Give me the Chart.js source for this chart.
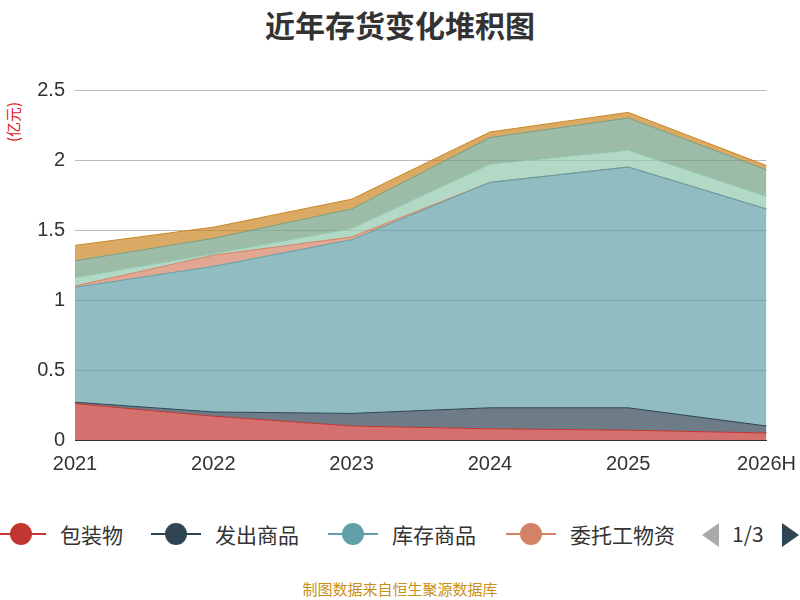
<!DOCTYPE html>
<html><head><meta charset="utf-8">
<script src="https://cdn.jsdelivr.net/npm/chart.js@4"></script>
<style>
body{margin:0;width:800px;height:600px;overflow:hidden;background:#fff;font-family:"Noto Sans CJK SC","Noto Sans",sans-serif;position:relative}
#title{position:absolute;top:2px;left:0;width:800px;text-align:center;font-size:30px;font-weight:bold;color:#333}
#unit{position:absolute;left:2px;color:#e02020;font-size:15px;transform:rotate(-90deg);transform-origin:left top;top:142px}
#wrap{position:absolute;left:0;top:0;width:800px;height:480px}
#legend{position:absolute;top:516px;left:0;width:800px;height:36px;font-size:21px;color:#333}
.it{position:absolute;top:0;display:flex;align-items:center;height:36px}
.mk{position:relative;width:50px;height:36px;margin-right:14px}
.mk .ln{position:absolute;left:0;top:17px;width:50px;height:2px}
.mk .ci{position:absolute;left:14px;top:7px;width:22px;height:22px;border-radius:50%}
#foot{position:absolute;top:578px;width:800px;text-align:center;color:#c8901a;font-size:15px}
</style></head><body>
<div id="title">近年存货变化堆积图</div>
<div id="unit">(亿元)</div>
<div id="wrap"><canvas id="c"></canvas></div>
<div id="legend"></div>
<div id="foot">制图数据来自恒生聚源数据库</div>
<script>
const categories=["2021","2022","2023","2024","2025","2026H"];
const names=["包装物","发出商品","库存商品","委托工物资","原材料","在产品","周转材料"];
const colors=["#c23531","#2f4554","#61a0a8","#d48265","#91c7ae","#749f83","#ca8622"];
const s1=[0.26,0.17,0.10,0.08,0.07,0.05];
const s2=[0.01,0.03,0.09,0.15,0.16,0.05];
const s3=[0.82,1.04,1.24,1.61,1.72,1.55];
const s4=[0.01,0.08,0.02,0.00,0.00,0.00];
const s5=[0.06,0.01,0.06,0.13,0.12,0.09];
const s6=[0.12,0.11,0.14,0.19,0.23,0.19];
const s7=[0.11,0.08,0.07,0.04,0.04,0.03];
const series=[s1,s2,s3,s4,s5,s6,s7];
const yTicks=[0,0.5,1,1.5,2,2.5];
function rgba(h,a){const n=parseInt(h.slice(1),16);return `rgba(${n>>16},${(n>>8)&255},${n&255},${a})`;}
new Chart(document.getElementById('c'),{type:'line',
data:{labels:categories,datasets:series.map((d,i)=>({label:names[i],data:d,borderColor:colors[i],borderWidth:1,backgroundColor:rgba(colors[i],0.7),fill:i===0?'origin':'-1',pointRadius:0,tension:0}))},
options:{responsive:true,maintainAspectRatio:false,animation:false,
layout:{padding:{top:90,right:32,left:0,bottom:0}},
plugins:{legend:{display:false},tooltip:{enabled:false}},
scales:{x:{offset:false,grid:{display:false,drawTicks:true},border:{color:'#333'},ticks:{color:'#333',font:{size:20},padding:4,maxRotation:0}},
y:{stacked:true,min:0,max:2.5,afterFit(s){s.width=75;},afterBuildTicks(s){s.ticks=yTicks.map(v=>({value:v}));},
grid:{color:'#bbb',drawTicks:false},border:{display:false},ticks:{color:'#333',font:{size:20},padding:10,callback:v=>String(v)}}}}});
const lg=document.getElementById('legend');
const pos=[0,155,332,510];
for(let i=0;i<4;i++){lg.insertAdjacentHTML('beforeend',`<div class="it" style="left:${pos[i]-4}px"><div class="mk"><div class="ln" style="background:${colors[i]}"></div><div class="ci" style="background:${colors[i]}"></div></div>${names[i]}</div>`);}
lg.insertAdjacentHTML('beforeend',`<div style="position:absolute;left:702px;top:7px;width:0;height:0;border-top:12px solid transparent;border-bottom:12px solid transparent;border-right:17px solid #aaa"></div><div style="position:absolute;left:732px;top:2px">1/3</div><div style="position:absolute;left:782px;top:7px;width:0;height:0;border-top:12px solid transparent;border-bottom:12px solid transparent;border-left:17px solid #2f4554"></div>`);
</script></body></html>
